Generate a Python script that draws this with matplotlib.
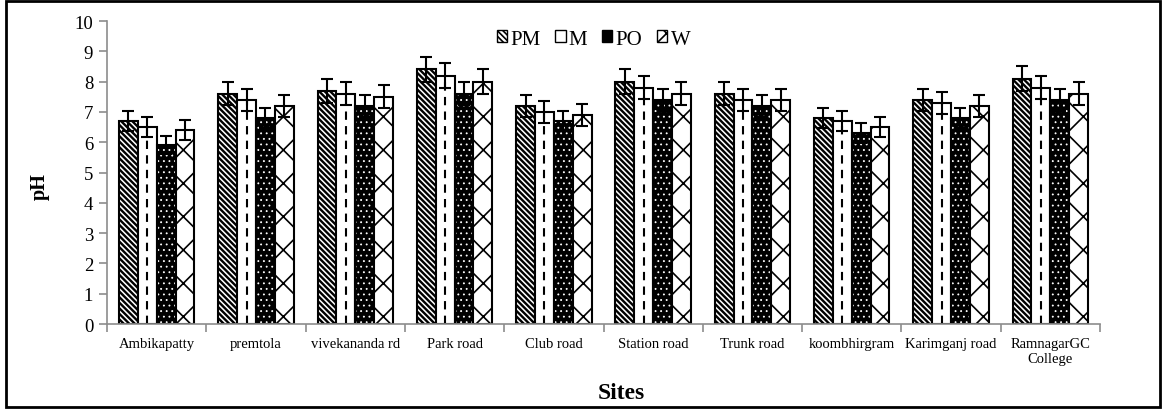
import numpy as np
import matplotlib.pyplot as plt
import matplotlib.patches as mpatches

# sites and pH readings for each season
sites = ['Ambikapatty', 'premtola', 'vivekananda rd', 'Park road', 'Club road',
         'Station road', 'Trunk road', 'koombhirgram', 'Karimganj road', 'RamnagarGC\nCollege']
pm = [6.7, 7.6, 7.7, 8.4, 7.2, 8.0, 7.6, 6.8, 7.4, 8.1]
m = [6.5, 7.4, 7.6, 8.2, 7.0, 7.8, 7.4, 6.7, 7.3, 7.8]
po = [5.9, 6.8, 7.2, 7.6, 6.7, 7.4, 7.2, 6.3, 6.8, 7.4]
w = [6.4, 7.2, 7.5, 8.0, 6.9, 7.6, 7.4, 6.5, 7.2, 7.6]
# error bar sizes
pm_err = [0.34, 0.38, 0.39, 0.42, 0.36, 0.40, 0.38, 0.34, 0.37, 0.41]
m_err = [0.33, 0.37, 0.38, 0.41, 0.35, 0.39, 0.37, 0.34, 0.37, 0.39]
po_err = [0.30, 0.34, 0.36, 0.38, 0.34, 0.37, 0.36, 0.32, 0.34, 0.37]
w_err = [0.32, 0.36, 0.38, 0.40, 0.35, 0.38, 0.37, 0.33, 0.36, 0.38]

plt.rcParams['font.family'] = ['Liberation Serif', 'DejaVu Serif']

fig = plt.figure(figsize=(11.66, 4.1), dpi=100)
ax = fig.add_axes([0.0918, 0.2073, 0.8516, 0.739])

x = np.arange(len(sites))
bw = 0.19
offs = [-1.5 * bw, -0.5 * bw, 0.5 * bw, 1.5 * bw]
ekw = dict(ecolor='black', elinewidth=1.5, capsize=4.5, capthick=1.5)
diag = '\\' * 6

# PM: dense diagonal lines
plt.rcParams['hatch.linewidth'] = 1.7
ax.bar(x + offs[0], pm, bw, color='white', edgecolor='black', hatch=diag, linewidth=1.5)
ax.errorbar(x + offs[0], pm, yerr=pm_err, fmt='none', **ekw)

# M: white bar with a dashed line down the middle
ax.bar(x + offs[1], m, bw, color='white', edgecolor='black', linewidth=1.5)
ax.vlines(x + offs[1], 0, m, colors='black', linestyles=(0, (4, 3)), linewidth=1.5)
ax.errorbar(x + offs[1], m, yerr=m_err, fmt='none', **ekw)

# PO: black with white dots
plt.rcParams['hatch.linewidth'] = 0.6
ax.bar(x + offs[2], po, bw, color='black', edgecolor='white', hatch='...', linewidth=0)
ax.bar(x + offs[2], po, bw, fill=False, edgecolor='black', linewidth=1.5)
ax.errorbar(x + offs[2], po, yerr=po_err, fmt='none', **ekw)

# W: zigzag
plt.rcParams['hatch.linewidth'] = 1.2
ax.bar(x + offs[3], w, bw, color='white', edgecolor='black', hatch='x', linewidth=1.5)
ax.errorbar(x + offs[3], w, yerr=w_err, fmt='none', **ekw)

ax.set_xlim(-0.5, len(sites) - 0.5)
ax.set_ylim(0, 10)
ax.set_yticks(range(0, 11))
ax.set_xticks(x)
ax.set_xticklabels(sites, fontsize=10.5)
ax.set_xticks(np.arange(-0.5, len(sites), 1), minor=True)
ax.tick_params(axis='x', which='major', length=0, pad=9)
ax.tick_params(axis='x', which='minor', length=6, color='#8c8c8c', width=1.2)
ax.tick_params(axis='y', labelsize=13.5, length=6, color='#8c8c8c', width=1.2, pad=4)
for s in ['top', 'right']:
    ax.spines[s].set_visible(False)
for s in ['left', 'bottom']:
    ax.spines[s].set_color('#8c8c8c')
    ax.spines[s].set_linewidth(1.2)

fig.text(0.034, 0.546, 'pH', fontsize=14.5, fontweight='bold', rotation=90, ha='center', va='center')
fig.text(0.533, 0.04, 'Sites', fontsize=17, fontweight='bold', ha='center', va='center')

# legend
h1 = mpatches.Patch(facecolor='white', edgecolor='black', hatch=diag, label='PM')
h2 = mpatches.Patch(facecolor='white', edgecolor='black', label='M')
h3 = mpatches.Patch(facecolor='black', edgecolor='black', hatch='...', label='PO')
h4 = mpatches.Patch(facecolor='white', edgecolor='black', hatch='x', label='W')
ax.legend(handles=[h1, h2, h3, h4], ncol=4, loc='upper center', bbox_to_anchor=(0.49, 1.02),
          frameon=False, fontsize=15, handlelength=0.5, handleheight=0.5,
          handletextpad=0.15, columnspacing=0.7, borderpad=0.2)

# border round the whole chart
fig.patches.append(mpatches.Rectangle((0.005, 0.005), 0.99, 0.99, transform=fig.transFigure,
                                      fill=False, edgecolor='black', linewidth=2))

fig.savefig('out.png', dpi=100)
